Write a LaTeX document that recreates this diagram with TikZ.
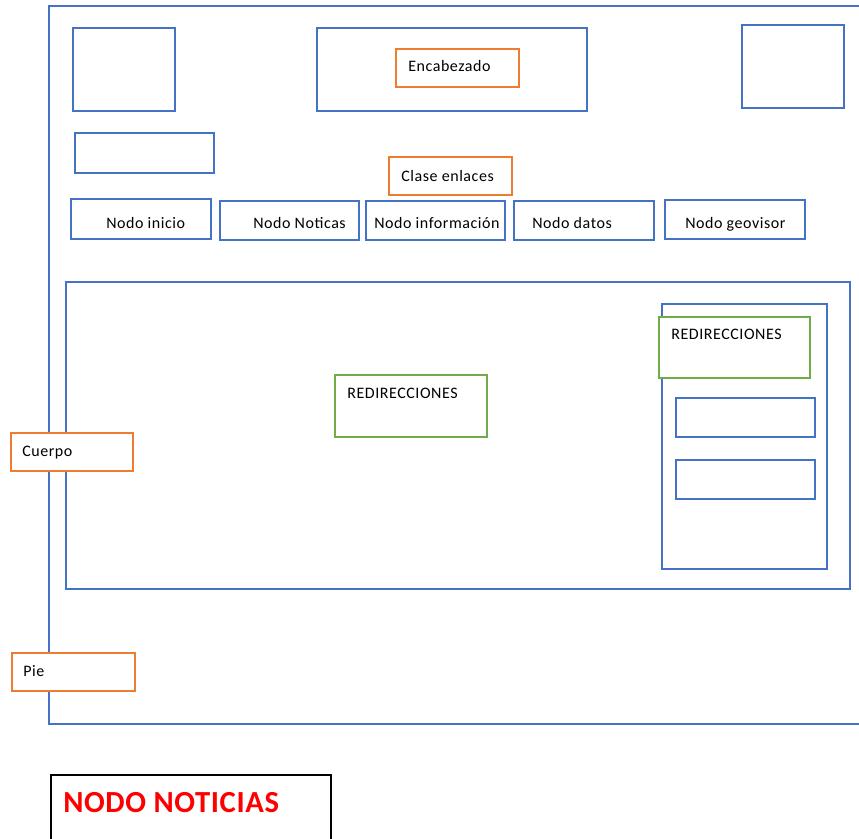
\documentclass[tikz,border=0pt]{standalone}
\usepackage{fontspec}
\setmainfont{Carlito}
\newfontfamily\wordfont[LetterSpace=3.5]{Carlito}
\newfontfamily\titlefont[LetterSpace=2]{Carlito}
\usetikzlibrary{fit}

\definecolor{wordblue}{HTML}{4472C4}
\definecolor{wordorange}{HTML}{ED7D31}
\definecolor{wordgreen}{HTML}{70AD47}

\begin{document}
\begin{tikzpicture}[x=0.75pt, y=-0.75pt, line join=miter,
    frame/.style={draw=wordblue, line width=1.3pt, inner sep=0pt},
    tagbox/.style={draw=wordorange, line width=1.1pt, fill=white, inner sep=0pt},
    redir/.style={draw=wordgreen, line width=1.1pt, fill=white, inner sep=0pt},
    txt/.style={anchor=base west, inner sep=0pt, font=\wordfont\fontsize{12}{14}\selectfont}]
    \useasboundingbox (0,0) rectangle (859,838);
    \clip (0,0) rectangle (859,838);

    % page frame (runs past the right edge)
    \node[frame, fit={(49,6) (900,724)}] (page) {};

    % header
    \node[frame, fit={(73,28) (175,111)}]  (logoL) {};
    \node[frame, fit={(317,28) (587,111)}] (header) {};
    \node[frame, fit={(742,25) (844,108)}] (logoR) {};
    \node[frame, fit={(75,133) (214,173)}] (search) {};
    \node[tagbox, fit={(396,49) (519,87)}] (enc) {};
    \node[txt] (tEnc) at (408,72) {Encabezado};

    % links
    \node[tagbox, fit={(389,157) (512,195)}] (links) {};
    \node[txt] (tLinks) at (401,181) {Clase enlaces};
    \node[frame, fit={(71,199) (211,239)}]  (inicio) {};
    \node[frame, fit={(220,201) (359,240)}] (noticias) {};
    \node[frame, fit={(366,201) (505,240)}] (info) {};
    \node[frame, fit={(514,201) (654,240)}] (datos) {};
    \node[frame, fit={(665,200) (805,239)}] (geo) {};
    \node[txt] (tInicio)   at (106,228) {Nodo inicio};
    \node[txt] (tNoticias) at (253,228) {Nodo Noticas};
    \node[txt] (tInfo)     at (374,228) {Nodo información};
    \node[txt] (tDatos)    at (532,228) {Nodo datos};
    \node[txt] (tGeo)      at (685,228) {Nodo geovisor};

    % body
    \node[frame, fit={(66,282) (850,589)}]  (body) {};
    \node[frame, fit={(662,304) (827,569)}] (side) {};
    \node[redir, fit={(659,317) (810,378)}] (redirR) {};
    \node[txt] (tRedirR) at (671,339) {REDIRECCIONES};
    \node[frame, fit={(676,398) (815,437)}] (sideA) {};
    \node[frame, fit={(676,460) (815,499)}] (sideB) {};
    \node[redir, fit={(335,375) (487,437)}] (redirM) {};
    \node[txt] (tRedirM) at (347,398) {REDIRECCIONES};

    %--- section tags on the left
    \node[tagbox, fit={(11,433) (133,471)}] (cuerpo) {};
    \node[txt] (tCuerpo) at (22,456) {Cuerpo};
    \node[tagbox, fit={(12,653) (135,691)}] (pie) {};
    \node[txt] (tPie) at (23,676) {Pie};

    % title box
    \node[draw=black, line width=1.3pt, inner sep=0pt, fit={(51,775) (331,900)}] (title) {};
    \node[anchor=base west, inner sep=0pt, text=red, font=\titlefont\fontsize{23}{27}\selectfont\bfseries] (tTitle) at (63,812) {NODO NOTICIAS};
\end{tikzpicture}
\end{document}
